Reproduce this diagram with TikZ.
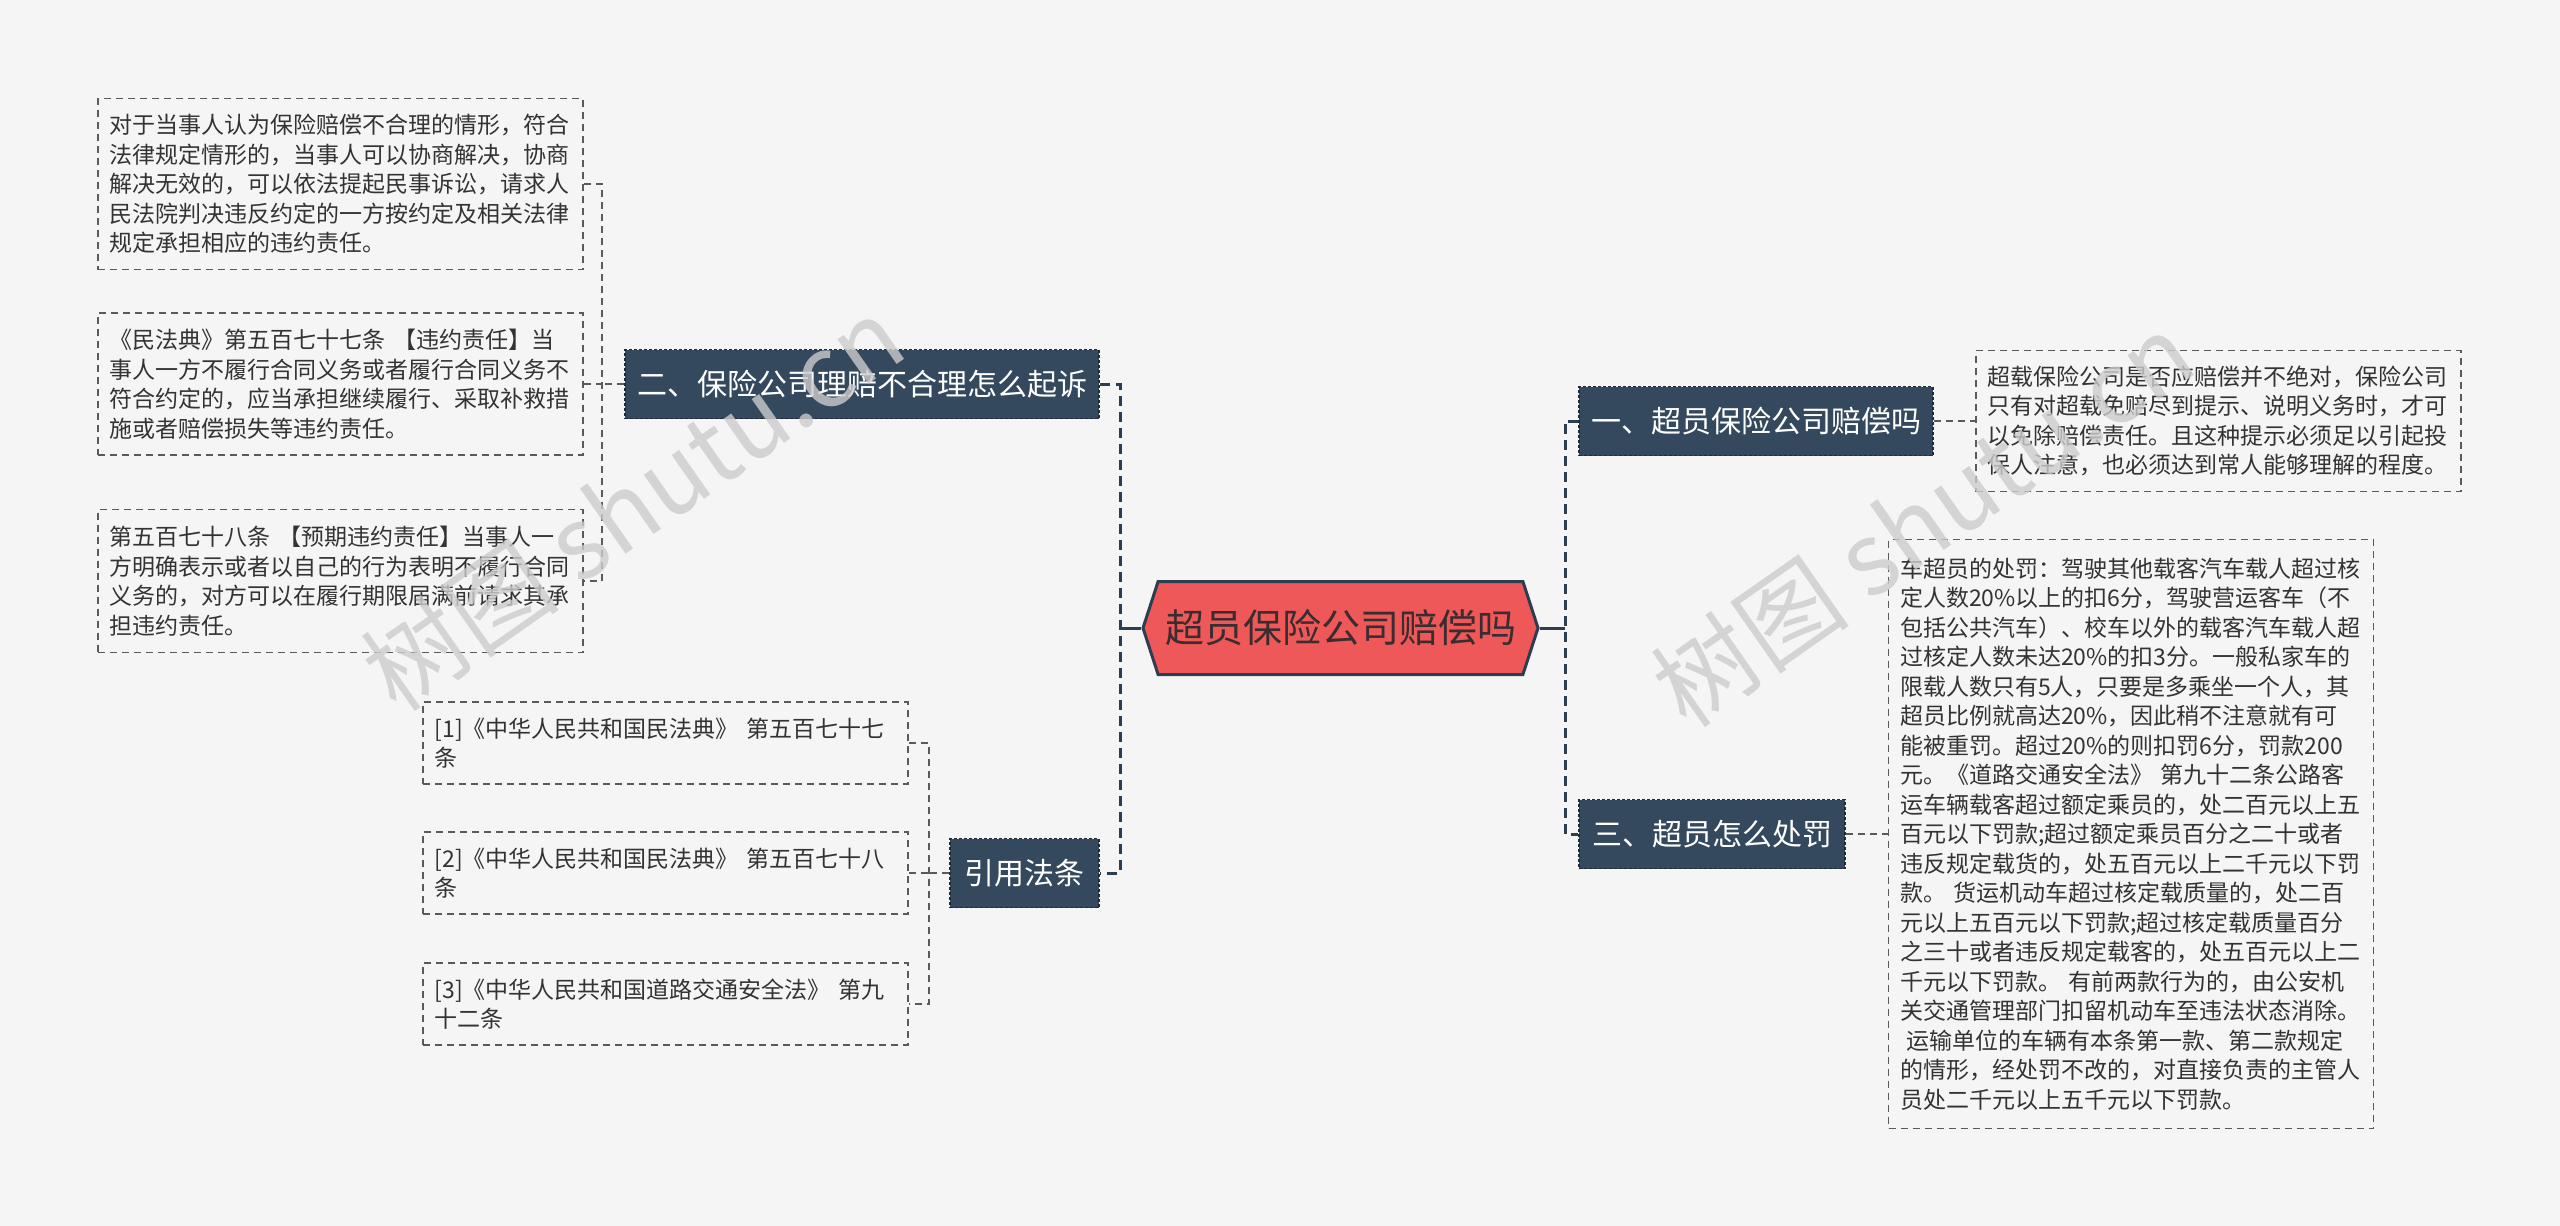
\documentclass[tikz,border=0pt]{standalone}
\usepackage{fontspec}
\newfontfamily\cjk{Noto Sans CJK SC}
\usepackage{xcolor}
\usetikzlibrary{shapes.symbols, positioning}

\definecolor{bgcol}{HTML}{F5F5F5}
\definecolor{navy}{HTML}{34495E}
\definecolor{navyline}{HTML}{2C3E50}
\definecolor{rootred}{HTML}{EF5858}
\definecolor{roottext}{HTML}{3B2C30}
\definecolor{leafline}{HTML}{5A5A5A}
\definecolor{leaftext}{HTML}{333333}

\begin{document}
\begin{tikzpicture}[
    x=1pt, y=-1pt,
    root/.style={signal, signal to=west and east, signal pointer angle=144, draw=navyline, line width=3pt, fill=rootred, text=roottext, minimum width=395pt, minimum height=93pt, inner sep=0pt, font=\cjk\fontsize{39}{44}\selectfont},
    topic/.style={rectangle, draw=navyline!70!black, dash pattern=on 3pt off 2pt, line width=1.5pt, fill=navy, text=white, minimum height=69pt, inner sep=0pt, font=\cjk\fontsize{30}{34}\selectfont},
    leaf/.style={rectangle, draw=leafline, dash pattern=on 7pt off 5pt, line width=1.6pt, text=leaftext, text width=462pt, inner xsep=11.5pt, inner ysep=0pt, align=left, font=\cjk\fontsize{23}{29.5}\selectfont},
    trunk/.style={navyline, line width=3pt},
    limb/.style={navyline, line width=3pt, dash pattern=on 10pt off 6pt},
    twig/.style={leafline, line width=1.8pt, dash pattern=on 7pt off 5pt},
    watermark/.style={font=\cjk\fontsize{100}{100}\selectfont, text=black!20, opacity=0.8, rotate=35}
]
    \fill[bgcol] (0,0) rectangle (2560,1226);
    \useasboundingbox (0,0) rectangle (2560,1226);

    % CENTRE
    \node (Root) [root] at (1340.5,628) {超员保险公司赔偿吗};

    % LEFT: SUING THE INSURER
    \node (Sue) [topic, minimum width=474pt] at (862,384) {二、保险公司理赔不合理怎么起诉};
    \node (Sue1) [leaf, minimum height=171pt] at (340.5,184) {对于当事人认为保险赔偿不合理的情形，符合\\
法律规定情形的，当事人可以协商解决，协商\\
解决无效的，可以依法提起民事诉讼，请求人\\
民法院判决违反约定的一方按约定及相关法律\\
规定承担相应的违约责任。};
    \node (Sue2) [leaf, minimum height=142pt] at (340.5,384) {《民法典》第五百七十七条 【违约责任】当\\
事人一方不履行合同义务或者履行合同义务不\\
符合约定的，应当承担继续履行、采取补救措\\
施或者赔偿损失等违约责任。};
    \node (Sue3) [leaf, minimum height=143pt] at (340.5,581) {第五百七十八条 【预期违约责任】当事人一\\
方明确表示或者以自己的行为表明不履行合同\\
义务的，对方可以在履行期限届满前请求其承\\
担违约责任。};

    % LEFT: CITED LAWS
    \node (Cite) [topic, minimum width=149pt] at (1024.5,873) {引用法条};
    \node (Cite1) [leaf, minimum height=82pt] at (665.5,743) {[1]《中华人民共和国民法典》 第五百七十七\\条};
    \node (Cite2) [leaf, minimum height=82pt] at (665.5,873) {[2]《中华人民共和国民法典》 第五百七十八\\条};
    \node (Cite3) [leaf, minimum height=82pt] at (665.5,1004) {[3]《中华人民共和国道路交通安全法》 第九\\十二条};

    % RIGHT: DOES THE INSURER PAY
    \node (Pay) [topic, minimum width=354pt] at (1756,421) {一、超员保险公司赔偿吗};
    \node (Pay1) [leaf, minimum height=141pt] at (2218.5,421) {超载保险公司是否应赔偿并不绝对，保险公司\\
只有对超载免赔尽到提示、说明义务时，才可\\
以免除赔偿责任。且这种提示必须足以引起投\\
保人注意，也必须达到常人能够理解的程度。};

    % RIGHT: PENALTIES
    \node (Fine) [topic, minimum width=266pt] at (1712,834) {三、超员怎么处罚};
    \node (Fine1) [leaf, minimum height=589pt] at (2131,834) {车超员的处罚：驾驶其他载客汽车载人超过核\\
定人数20\%以上的扣6分，驾驶营运客车（不\\
包括公共汽车）、校车以外的载客汽车载人超\\
过核定人数未达20\%的扣3分。一般私家车的\\
限载人数只有5人，只要是多乘坐一个人，其\\
超员比例就高达20\%，因此稍不注意就有可\\
能被重罚。超过20\%的则扣罚6分，罚款200\\
元。《道路交通安全法》 第九十二条公路客\\
运车辆载客超过额定乘员的，处二百元以上五\\
百元以下罚款;超过额定乘员百分之二十或者\\
违反规定载货的，处五百元以上二千元以下罚\\
款。 货运机动车超过核定载质量的，处二百\\
元以上五百元以下罚款;超过核定载质量百分\\
之三十或者违反规定载客的，处五百元以上二\\
千元以下罚款。 有前两款行为的，由公安机\\
关交通管理部门扣留机动车至违法状态消除。\\
\hspace*{6pt}运输单位的车辆有本条第一款、第二款规定\\
的情形，经处罚不改的，对直接负责的主管人\\
员处二千元以上五千元以下罚款。};

    % CONNECTORS
    \coordinate (LeftJoin) at (1120,628);
    \coordinate (RightJoin) at (1565,628);
    \draw[trunk] (Root.west) -- (LeftJoin);
    \draw[trunk] (Root.east) -- (RightJoin);
    \draw[limb] (Sue.east) -| (LeftJoin) |- (Cite.east);
    \draw[limb] (Pay.west) -| (RightJoin) |- (Fine.west);

    \coordinate (SueJoin) at (602,384);
    \draw[twig] (Sue.west) -- (SueJoin);
    \draw[twig] (Sue1.east) -| (SueJoin) |- (Sue3.east);
    \draw[twig] (Sue2.east) -- (SueJoin);

    \coordinate (CiteJoin) at (929,873);
    \draw[twig] (Cite.west) -- (CiteJoin);
    \draw[twig] (Cite1.east) -| (CiteJoin) |- (Cite3.east);
    \draw[twig] (Cite2.east) -- (CiteJoin);

    \draw[twig] (Pay.east) -- (Pay1.west);
    \draw[twig] (Fine.east) -- (Fine1.west);

    % WATERMARKS
    \node (Mark1) [watermark] at (633,503) {树图 shutu.cn};
    \node (Mark2) [watermark] at (1923,519) {树图 shutu.cn};
\end{tikzpicture}
\end{document}
